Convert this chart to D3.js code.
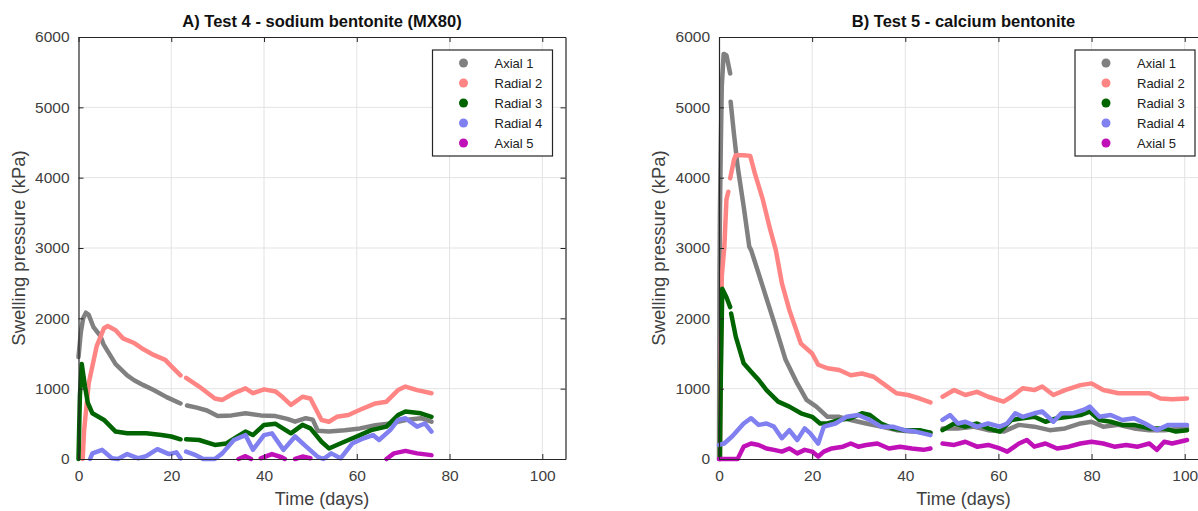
<!DOCTYPE html>
<html>
<head>
<meta charset="utf-8">
<script src="https://cdn.jsdelivr.net/npm/d3@7"></script>
<style>
  body { margin: 0; background: #fff; }
  svg text { font-family: Arial, "Liberation Sans", sans-serif; }
</style>
</head>
<body>
<svg id="chart" width="1198" height="511"></svg>
<script>
const seriesNames = ['Axial 1', 'Radial 2', 'Radial 3', 'Radial 4', 'Axial 5'];
const seriesColors = ['#808080', '#ff8585', '#006400', '#8080f0', '#c010b8'];
const titles = ['A) Test 4 - sodium bentonite (MX80)', 'B) Test 5 - calcium bentonite'];
const xTicks = [0, 20, 40, 60, 80, 100];
const yTicks = [0, 1000, 2000, 3000, 4000, 5000, 6000];

// [day, kPa]; null = gap in the record
const t4Axial1 = [[0,1450],[0.5,1800],[1,2000],[1.6,2080],[2.2,2050],[3.2,1880],[4.7,1750],[5.4,1630],[8,1350],[10.5,1190],[12,1120],[14,1050],[16.2,980],[19,880],[22,790],[22.7,null],[23.4,760],[25.5,730],[27.7,690],[30,610],[33,620],[36,650],[39.3,620],[42.5,610],[45,570],[46.7,530],[49,580],[50.5,560],[51.6,400],[54,390],[57.4,410],[60.7,435],[64,480],[67.2,505],[70.5,555],[73.8,580],[76.1,530]];
const t4Radial2 = [[0.9,0],[1.2,400],[2.2,1075],[3.9,1600],[5.5,1860],[6.3,1890],[8,1830],[9.6,1715],[12.1,1645],[14,1560],[16.2,1480],[18.7,1410],[20,1320],[22,1190],[22.6,null],[23.2,1155],[26,1030],[29.4,860],[31,840],[33.5,935],[36,1005],[37.6,935],[40,990],[42.5,960],[44,880],[45.8,770],[48.3,885],[50,860],[52.4,555],[54,530],[55.7,600],[58.2,625],[60.7,700],[64,790],[66.4,815],[68.9,980],[70.5,1030],[73,980],[76.1,935]];
const t4Radial3 = [[0,0],[0.3,900],[0.7,1350],[1.4,1030],[2,800],[3,650],[5.5,555],[8,390],[10.5,365],[14.6,365],[17.9,340],[20,320],[22,280],[22.6,null],[23.2,280],[26,270],[29.4,200],[31.9,220],[34.3,320],[36,390],[37.6,340],[40,485],[42.5,500],[45.8,365],[48.3,485],[50,435],[52.4,245],[54,150],[55.7,200],[58.2,270],[60.7,340],[63.1,410],[66.4,460],[68.9,625],[70.5,675],[73.8,650],[76.1,600]];
const t4Radial4 = [[2.5,0],[3,80],[5.1,130],[7.2,10],[8.5,0],[10.5,70],[12.9,10],[14.6,40],[17,140],[19.5,70],[21.1,95],[22,10],[22.6,null],[23.2,105],[25.3,55],[26.9,0],[29.4,0],[31,80],[33.5,270],[36,340],[37.6,130],[40,340],[41.7,365],[44.2,130],[46.7,320],[49.1,175],[51.6,30],[52.8,0],[54.5,80],[56.5,10],[59,220],[61.5,295],[63.5,340],[64.8,270],[67.2,410],[68.9,555],[70.5,580],[73,460],[74.7,505],[76.1,390]];
const t4Axial5 = [[34.5,0],[36,40],[37.2,0],[38,null],[39.3,10],[41.7,70],[43.8,25],[44.5,0],[45.5,null],[46.7,0],[48.3,35],[50,10],[58,null],[66.4,0],[68,80],[70.5,115],[73,80],[76.1,55]];

const t5Axial1 = [[0,0],[0.1,2500],[0.2,3500],[0.4,4500],[0.6,5300],[1,5760],[1.6,5740],[2.4,5480],[2.45,null],[2.5,5080],[3.2,4630],[4,4160],[5.3,3590],[6.5,3020],[6.9,2970],[9.4,2450],[11.8,1950],[14.3,1410],[16.8,1075],[18.8,840],[20.9,745],[23.3,600],[25.8,600],[28.3,555],[31.6,505],[34.8,460],[38.1,410],[41.4,390],[45.4,375],[46.5,null],[48,435],[51.3,435],[54.6,460],[57.8,410],[61.1,390],[64.4,485],[67.7,460],[71,410],[74.3,435],[77.6,505],[80,530],[82.5,460],[85.8,485],[89.1,435],[92.4,410],[95.6,410],[99.6,435],[100.5,440]];
const t5Radial2 = [[0.2,0],[0.4,1500],[0.6,2600],[1.15,3020],[1.6,3690],[2,3800],[2.2,null],[2.4,3990],[3.2,4250],[3.6,4320],[5.3,4320],[6.7,4310],[7.7,4060],[9.4,3690],[11,3260],[12.2,2970],[13.5,2500],[15.1,2120],[17.6,1640],[20,1500],[21.3,1340],[23.3,1290],[25.8,1265],[28.3,1190],[30.7,1215],[33.2,1170],[35.7,1050],[38.1,935],[40.6,910],[43.1,860],[45.4,805],[46.5,null],[48,885],[50.5,980],[52.9,910],[55.4,955],[57.8,885],[61.1,815],[62.8,885],[65.2,1005],[67.7,980],[69.4,1030],[71.8,910],[74.3,980],[77.6,1050],[80,1075],[82.5,980],[85.8,935],[89.1,935],[92.4,935],[94.8,860],[97.3,850],[100.5,860]];
const t5Radial3 = [[0.2,0],[0.4,1200],[0.7,2420],[1.6,2300],[2.4,2160],[2.5,null],[2.6,2070],[3.6,1740],[5.3,1360],[6.9,1240],[8.5,1125],[10.2,980],[12.7,815],[15.1,745],[17.6,650],[20,600],[21.7,505],[23.3,505],[25.8,555],[28.3,580],[30.7,650],[32.4,625],[34.8,505],[37.3,435],[39.8,410],[43.1,410],[45.4,375],[46.5,null],[48,410],[50.5,505],[52.9,460],[55.4,505],[57.8,435],[60.3,390],[62.8,555],[65.2,580],[67.7,600],[70.1,530],[72.6,580],[75.1,600],[77.6,625],[79.6,675],[81.7,555],[84.1,530],[86.6,485],[89.1,485],[92.4,435],[95.6,435],[98.1,390],[100.5,410]];
const t5Radial4 = [[0,200],[1.1,220],[2.8,320],[5.3,505],[6.9,580],[8.5,485],[10.2,505],[11.8,460],[13.5,295],[15.1,410],[16.8,270],[18.4,435],[19.6,365],[21.3,220],[22.5,460],[25,505],[27.4,600],[29.9,625],[32.4,555],[34.8,460],[37.3,460],[39.8,410],[42.2,390],[45.4,340],[46.5,null],[48,555],[49.6,625],[51.3,505],[52.9,530],[55.4,460],[57.8,505],[60.3,460],[61.9,505],[63.6,650],[65.2,600],[67.7,650],[69.4,675],[71.8,530],[73.5,650],[75.9,650],[78.4,700],[79.6,745],[81.7,600],[84.1,625],[86.6,555],[89.1,580],[91.5,505],[94,410],[96.5,485],[100.5,485]];
const t5Axial5 = [[0,0],[4,0],[4.4,55],[5.3,175],[6.9,220],[8.5,200],[10.2,150],[11.8,130],[13.5,105],[15.1,150],[16.8,80],[18.4,130],[20,105],[21.3,35],[22.5,105],[24.2,150],[26.6,175],[28.3,220],[29.9,175],[31.6,200],[34,220],[36.5,150],[38.9,175],[41.4,150],[43.9,130],[45.4,150],[46.5,null],[48,220],[50.5,200],[52.9,245],[55.4,175],[57.8,200],[60.3,150],[61.9,105],[64.4,220],[66.1,270],[67.7,175],[70.1,220],[72.6,150],[75.1,175],[77.6,220],[80,245],[82.5,220],[84.9,175],[87.4,200],[89.9,175],[92.4,220],[94,130],[95.6,245],[97.3,220],[100.5,270]];

const panels = [
  { title: titles[0], left: 78.5, right: 565.5, series: [t4Axial1, t4Radial2, t4Radial3, t4Radial4, t4Axial5] },
  { title: titles[1], left: 719, right: 1208, series: [t5Axial1, t5Radial2, t5Radial3, t5Radial4, t5Axial5] }
];

const plotTop = 37, plotBottom = 459;
const svg = d3.select('#chart');
const axisColor = '#262626';
const textColor = '#404040';

panels.forEach((p) => {
  const x = d3.scaleLinear().domain([0, 105]).range([p.left, p.right]);
  const y = d3.scaleLinear().domain([0, 6000]).range([plotBottom, plotTop]);
  const g = svg.append('g');

  // grid
  g.append('g').selectAll('line').data(xTicks.slice(1)).enter().append('line')
    .attr('x1', (d) => x(d)).attr('x2', (d) => x(d))
    .attr('y1', plotTop).attr('y2', plotBottom)
    .attr('stroke', '#e3e3e3').attr('stroke-width', 1);
  g.append('g').selectAll('line').data(yTicks.slice(1, -1)).enter().append('line')
    .attr('x1', p.left).attr('x2', p.right)
    .attr('y1', (d) => y(d)).attr('y2', (d) => y(d))
    .attr('stroke', '#e3e3e3').attr('stroke-width', 1);

  // data lines
  const line = d3.line()
    .defined((d) => d[1] !== null)
    .x((d) => x(d[0]))
    .y((d) => y(d[1]));

  p.series.forEach((s, i) => {
    g.append('path')
      .datum(s)
      .attr('d', line)
      .attr('fill', 'none')
      .attr('stroke', seriesColors[i])
      .attr('stroke-width', 4.5)
      .attr('stroke-linejoin', 'round')
      .attr('stroke-linecap', 'round');
  });

  // axes (ticks inside, box on)
  const fmt = d3.format('d');
  const bottomAxis = d3.axisBottom(x).tickValues(xTicks).tickFormat(fmt).tickSizeInner(-5).tickSizeOuter(0).tickPadding(11);
  const leftAxis = d3.axisLeft(y).tickValues(yTicks).tickFormat(fmt).tickSizeInner(-5).tickSizeOuter(0).tickPadding(9);
  const topAxis = d3.axisTop(x).tickValues(xTicks).tickSizeInner(-5).tickSizeOuter(0).tickFormat('');
  const rightAxis = d3.axisRight(y).tickValues(yTicks).tickSizeInner(-5).tickSizeOuter(0).tickFormat('');

  const ax = [
    g.append('g').attr('transform', `translate(0,${plotBottom})`).call(bottomAxis),
    g.append('g').attr('transform', `translate(${p.left},0)`).call(leftAxis),
    g.append('g').attr('transform', `translate(0,${plotTop})`).call(topAxis),
    g.append('g').attr('transform', `translate(${p.right},0)`).call(rightAxis)
  ];
  ax.forEach((a) => {
    a.select('.domain').attr('stroke', axisColor).attr('stroke-width', 1.2);
    a.selectAll('.tick line').attr('stroke', axisColor);
    a.selectAll('.tick text').attr('fill', textColor).style('font-size', '15.5px');
  });

  // title and labels
  svg.append('text')
    .attr('x', (p.left + p.right) / 2).attr('y', 27)
    .attr('text-anchor', 'middle')
    .style('font-size', '16.5px').style('font-weight', 'bold')
    .attr('fill', '#111')
    .text(p.title);

  svg.append('text')
    .attr('x', (p.left + p.right) / 2).attr('y', 505)
    .attr('text-anchor', 'middle')
    .style('font-size', '18px')
    .attr('fill', textColor)
    .text('Time (days)');

  svg.append('text')
    .attr('transform', `translate(${p.left - 54},${(plotTop + plotBottom) / 2}) rotate(-90)`)
    .attr('text-anchor', 'middle')
    .style('font-size', '18.5px')
    .attr('fill', textColor)
    .text('Swelling pressure (kPa)');

  // legend
  const lx = p.right - 133, ly = 50;
  const legend = svg.append('g').attr('transform', `translate(${lx},${ly})`);
  legend.append('rect')
    .attr('width', 120).attr('height', 106)
    .attr('fill', '#fff').attr('stroke', axisColor).attr('stroke-width', 1.2);
  const rows = legend.selectAll('g.row').data(seriesNames).enter().append('g')
    .attr('class', 'row')
    .attr('transform', (d, i) => `translate(0,${13 + i * 20})`);
  rows.append('circle')
    .attr('cx', 31).attr('cy', 0).attr('r', 4.5)
    .attr('fill', (d, i) => seriesColors[i]);
  rows.append('text')
    .attr('x', 62).attr('y', 4.5)
    .style('font-size', '13px')
    .attr('fill', '#222')
    .text((d) => d);
});
</script>
</body>
</html>
